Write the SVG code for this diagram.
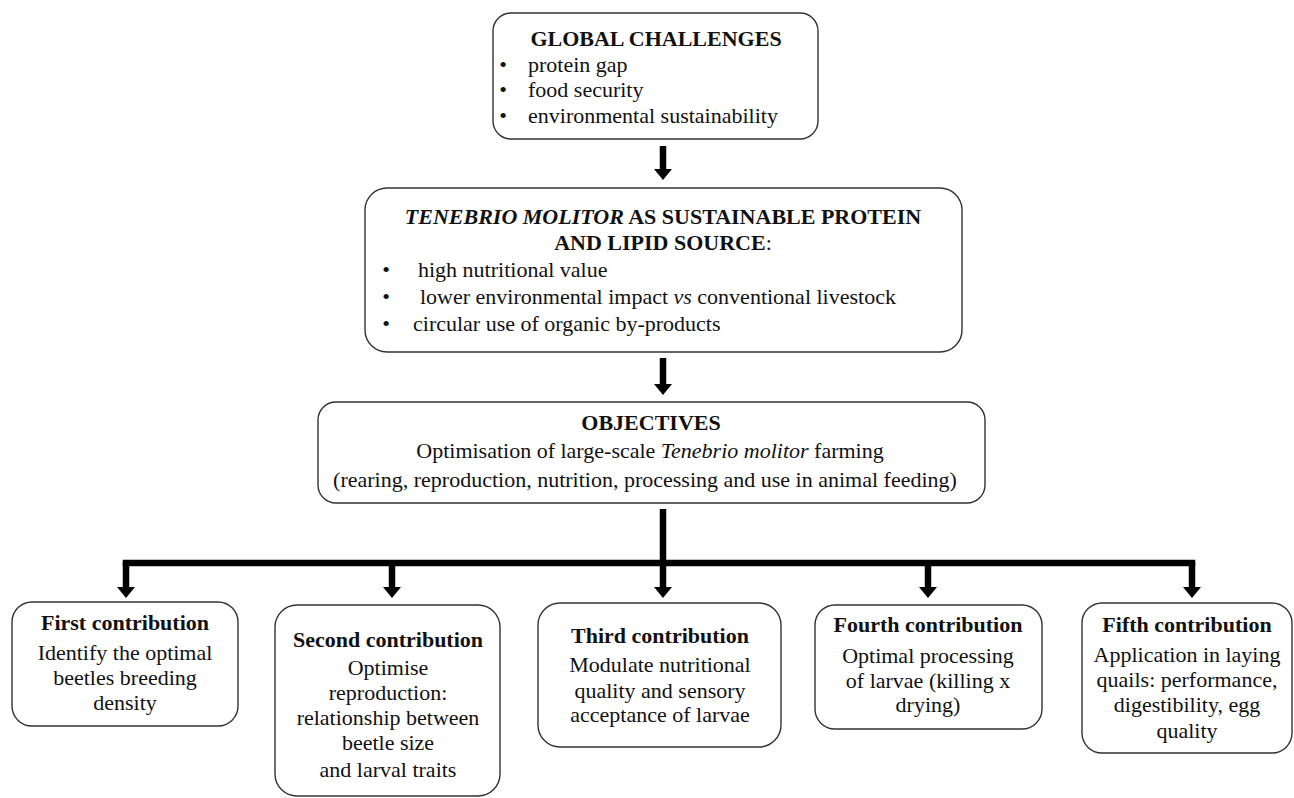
<svg xmlns="http://www.w3.org/2000/svg" width="1294" height="798" viewBox="0 0 1294 798" font-family="'Liberation Serif', 'DejaVu Serif', serif">
<style>
  .box { fill: #ffffff; stroke: #333333; stroke-width: 1.4; }
  text { font-family: 'Liberation Serif', 'DejaVu Serif', serif; font-size: 22px; fill: #111111; }
  .c { text-anchor: middle; }
  .b { font-weight: bold; }
  .i { font-style: italic; }
  .n { font-weight: normal; }
  .conn { stroke: #000000; fill: none; }
  .stem { stroke-width: 6.5; }
  .bar { stroke-width: 6.5; stroke-linecap: square; }
</style>
<defs>
  <marker id="head" viewBox="0 0 11 18" markerUnits="userSpaceOnUse" markerWidth="11" markerHeight="18" refX="1" refY="9" orient="auto">
    <path d="M0,0 L11,9 L0,18 z" fill="#000000"/>
  </marker>
</defs>
<rect width="1294" height="798" fill="#ffffff"/>

<g id="connectors">
  <line class="conn stem" x1="663" y1="146" x2="663" y2="170" marker-end="url(#head)"/>
  <line class="conn stem" x1="663" y1="358" x2="663" y2="385" marker-end="url(#head)"/>
  <line class="conn stem" x1="663" y1="509" x2="663" y2="588" marker-end="url(#head)"/>
  <line class="conn bar" x1="126" y1="563" x2="1192" y2="563"/>
  <line class="conn stem" x1="126" y1="563" x2="126" y2="588" marker-end="url(#head)"/>
  <line class="conn stem" x1="392" y1="563" x2="392" y2="588" marker-end="url(#head)"/>
  <line class="conn stem" x1="928" y1="563" x2="928" y2="588" marker-end="url(#head)"/>
  <line class="conn stem" x1="1192" y1="563" x2="1192" y2="588" marker-end="url(#head)"/>
</g>

<g id="global-challenges">
  <rect class="box" x="493" y="13" width="325" height="126" rx="18"/>
  <text class="c b" x="656" y="46">GLOBAL CHALLENGES</text>
  <text class="c" x="503" y="72">•</text>
  <text x="528" y="72">protein gap</text>
  <text class="c" x="503" y="97">•</text>
  <text x="528" y="97">food security</text>
  <text class="c" x="503" y="123">•</text>
  <text x="528" y="123">environmental sustainability</text>
</g>

<g id="tenebrio-source">
  <rect class="box" x="365" y="188" width="597" height="164" rx="22"/>
  <text class="c b" x="663" y="224"><tspan class="i">TENEBRIO MOLITOR</tspan> AS SUSTAINABLE PROTEIN</text>
  <text class="c b" x="663" y="250">AND LIPID SOURCE<tspan class="n">:</tspan></text>
  <text class="c" x="386" y="277">•</text>
  <text x="418" y="277">high nutritional value</text>
  <text class="c" x="386" y="304">•</text>
  <text x="420" y="304">lower environmental impact <tspan class="i">vs</tspan> conventional livestock</text>
  <text class="c" x="386" y="331">•</text>
  <text x="413" y="331">circular use of organic by-products</text>
</g>

<g id="objectives">
  <rect class="box" x="318" y="402" width="667" height="101" rx="18"/>
  <text class="c b" x="651" y="430">OBJECTIVES</text>
  <text class="c" x="650" y="458">Optimisation of large-scale <tspan class="i">Tenebrio molitor</tspan> farming</text>
  <text class="c" x="645" y="487">(rearing, reproduction, nutrition, processing and use in animal feeding)</text>
</g>

<g id="first-contribution">
  <rect class="box" x="12" y="602" width="226" height="124" rx="20"/>
  <text class="c b" x="125" y="630">First contribution</text>
  <text class="c" x="125" y="660">Identify the optimal</text>
  <text class="c" x="125" y="685">beetles breeding</text>
  <text class="c" x="125" y="710">density</text>
</g>

<g id="second-contribution">
  <rect class="box" x="275" y="605" width="225" height="191" rx="22"/>
  <text class="c b" x="388" y="647">Second contribution</text>
  <text class="c" x="388" y="675">Optimise</text>
  <text class="c" x="388" y="700">reproduction:</text>
  <text class="c" x="388" y="725">relationship between</text>
  <text class="c" x="388" y="750">beetle size</text>
  <text class="c" x="388" y="777">and larval traits</text>
</g>

<g id="third-contribution">
  <rect class="box" x="538" y="603" width="243" height="144" rx="22"/>
  <text class="c b" x="660" y="643">Third contribution</text>
  <text class="c" x="660" y="672">Modulate nutritional</text>
  <text class="c" x="660" y="698">quality and sensory</text>
  <text class="c" x="660" y="722">acceptance of larvae</text>
</g>

<g id="fourth-contribution">
  <rect class="box" x="815" y="605" width="227" height="124" rx="20"/>
  <text class="c b" x="928" y="632">Fourth contribution</text>
  <text class="c" x="928" y="663">Optimal processing</text>
  <text class="c" x="928" y="688">of larvae (killing x</text>
  <text class="c" x="928" y="712">drying)</text>
</g>

<g id="fifth-contribution">
  <rect class="box" x="1082" y="603" width="210" height="150" rx="20"/>
  <text class="c b" x="1187" y="632">Fifth contribution</text>
  <text class="c" x="1187" y="662">Application in laying</text>
  <text class="c" x="1187" y="687">quails: performance,</text>
  <text class="c" x="1187" y="712">digestibility, egg</text>
  <text class="c" x="1187" y="738">quality</text>
</g>
</svg>
